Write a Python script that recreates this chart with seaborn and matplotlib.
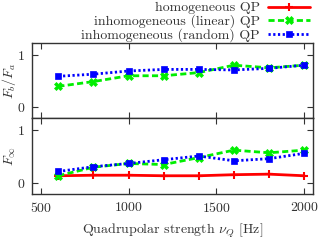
import numpy as np
import pandas as pd
import matplotlib
matplotlib.use("Agg")
import matplotlib.pyplot as plt
import seaborn as sns

nu_q = [600, 800, 1000, 1200, 1400, 1600, 1800, 2000]

# top panel: F_b / F_a
ratio_linear = [0.40, 0.49, 0.60, 0.60, 0.66, 0.80, 0.75, 0.80]
ratio_random = [0.59, 0.63, 0.69, 0.72, 0.72, 0.71, 0.74, 0.80]

# bottom panel: F_inf
finf_homog = [0.14, 0.15, 0.15, 0.14, 0.14, 0.16, 0.17, 0.14]
finf_linear = [0.14, 0.30, 0.37, 0.35, 0.48, 0.62, 0.57, 0.62]
finf_random = [0.22, 0.31, 0.37, 0.44, 0.51, 0.42, 0.46, 0.56]

labels = ["homogeneous QP", "inhomogeneous (linear) QP", "inhomogeneous (random) QP"]
colors = ["#ff0000", "#00ee00", "#0000ff"]

sns.set_theme(style="ticks")
plt.rcParams["font.family"] = ["cmr10", "DejaVu Serif"]
plt.rcParams["mathtext.fontset"] = "cm"
plt.rcParams["axes.formatter.use_mathtext"] = True
plt.rcParams["font.size"] = 10

fig = plt.figure(figsize=(3.2, 2.4), dpi=100)
ax1 = fig.add_axes([0.1, 0.508, 0.878, 0.313])
ax2 = fig.add_axes([0.1, 0.192, 0.878, 0.316])

styles = {
    labels[0]: dict(color=colors[0], ls="-", marker="+", ms=6, mew=1.5, lw=2.0),
    labels[1]: dict(color=colors[1], ls=(0, (2.2, 1.2)), marker="X", ms=5.5, mew=0.5, lw=2.0),
    labels[2]: dict(color=colors[2], ls=(0, (0.8, 0.9)), marker="s", ms=4.5, mew=0.5, lw=2.0),
}

top = pd.DataFrame({"x": nu_q * 2, "y": ratio_linear + ratio_random,
                    "s": [labels[1]] * 8 + [labels[2]] * 8})
bot = pd.DataFrame({"x": nu_q * 3, "y": finf_homog + finf_linear + finf_random,
                    "s": [labels[0]] * 8 + [labels[1]] * 8 + [labels[2]] * 8})

for ax, df in [(ax1, top), (ax2, bot)]:
    for lab in labels:
        sub = df[df["s"] == lab]
        if len(sub) == 0:
            continue
        st = styles[lab]
        sns.lineplot(data=sub, x="x", y="y", ax=ax, color=st["color"], linestyle=st["ls"],
                     marker=st["marker"], markersize=st["ms"], markeredgewidth=st["mew"],
                     markeredgecolor=st["color"], linewidth=st["lw"], label=lab, legend=False)

for ax in (ax1, ax2):
    ax.set_xlim(450, 2050)
    ax.set_ylim(-0.2, 1.22)
    ax.set_yticks([0, 1])
    ax.set_xticks([500, 1000, 1500, 2000])
    ax.tick_params(direction="in", top=True, right=True, length=4, width=0.8,
                   colors="#333333", labelcolor="#333333", labelsize=10, pad=5)
    for sp in ax.spines.values():
        sp.set_linewidth(1.0)
        sp.set_color("#333333")
    ax.set_xlabel("")

ax1.tick_params(labelbottom=False)
ax1.set_ylabel(r"$F_b/F_a$", fontsize=10, color="#333333")
ax2.set_ylabel(r"$F_\infty$", fontsize=10, color="#333333")
ax2.set_xlabel(r"Quadrupolar strength $\nu_Q$ [Hz]", fontsize=10, color="#333333", labelpad=5)
ax1.yaxis.set_label_coords(-0.05, 0.5)
ax2.yaxis.set_label_coords(-0.05, 0.5)

handles, labs = ax2.get_legend_handles_labels()
fig.legend(handles, labs, loc="upper right", bbox_to_anchor=(0.99, 1.022), frameon=False,
           markerfirst=False, fontsize=10, labelspacing=0.0, handlelength=3.0,
           handletextpad=0.6, borderpad=0.0, labelcolor="#333333")

fig.savefig("out.png", dpi=100)
